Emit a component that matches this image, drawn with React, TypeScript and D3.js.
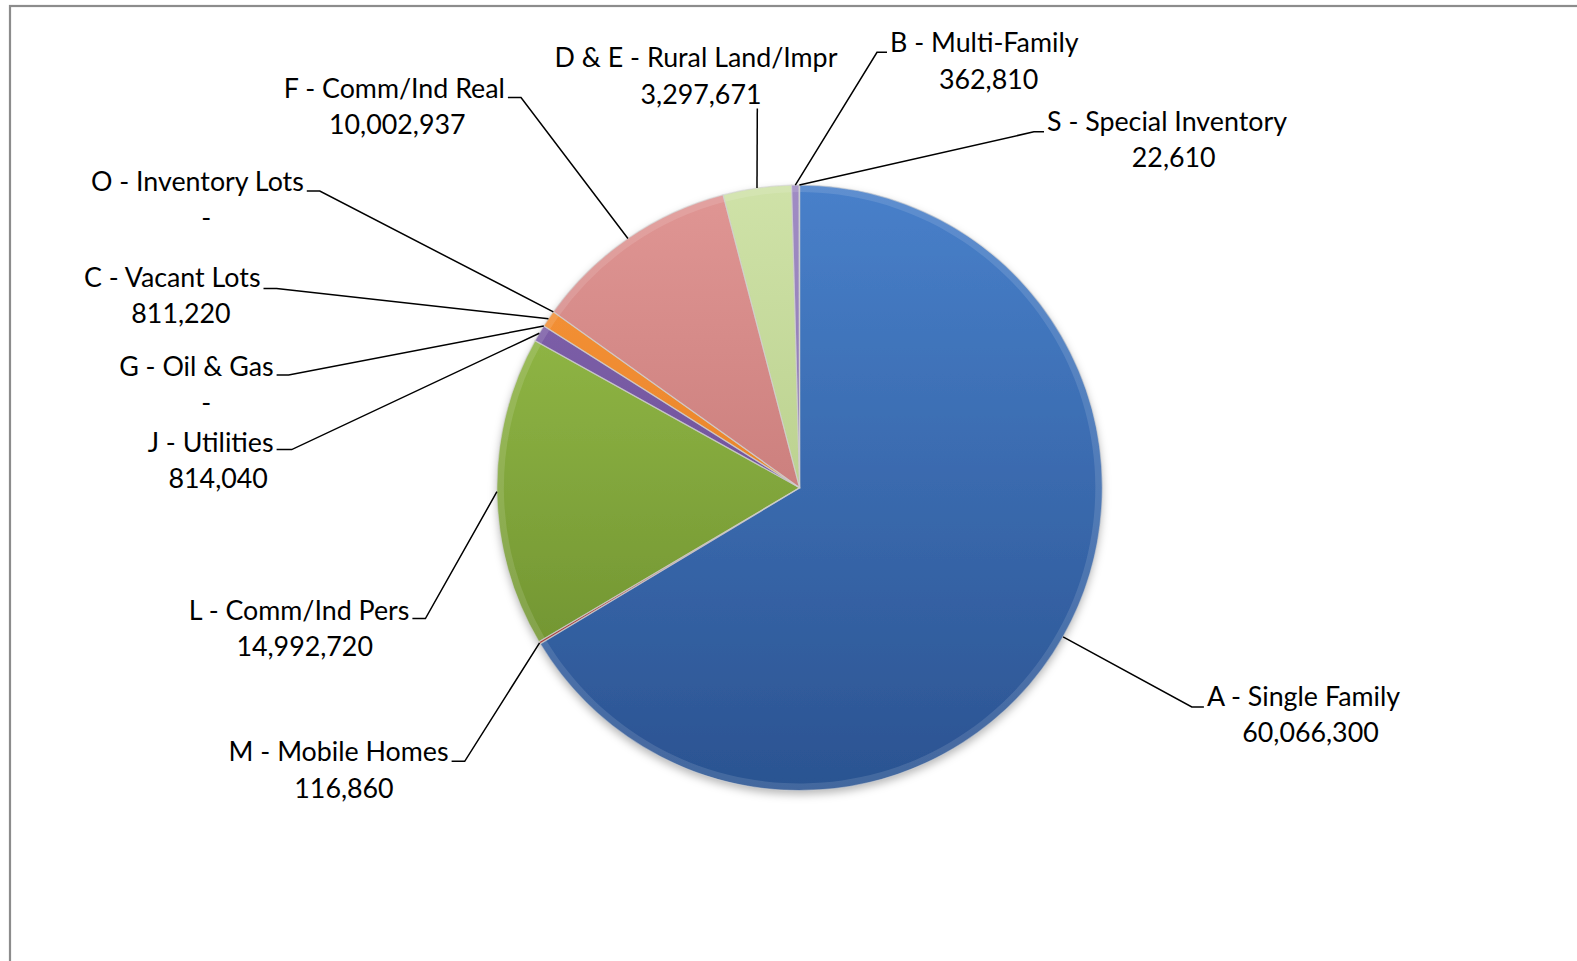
import React from "react";
import * as d3 from "d3";

const categories = [
  "A - Single Family",
  "M - Mobile Homes",
  "L - Comm/Ind Pers",
  "J - Utilities",
  "G - Oil & Gas",
  "C - Vacant Lots",
  "O - Inventory Lots",
  "F - Comm/Ind Real",
  "D & E - Rural Land/Impr",
  "B - Multi-Family",
  "S - Special Inventory",
];
const values = [60066300, 116860, 14992720, 814040, 0, 811220, 0, 10002937, 3297671, 362810, 22610];
const valueLabels = ["60,066,300", "116,860", "14,992,720", "814,040", "-", "811,220", "-", "10,002,937", "3,297,671", "362,810", "22,610"];

// [top colour, bottom colour] per slice
const colors: [string, string][] = [
  ["#4880ca", "#2b5391"],
  ["#c9534f", "#9c3a37"],
  ["#9cc34d", "#66882a"],
  ["#8466b0", "#5f438a"],
  ["#54b2cc", "#35889f"],
  ["#f8963c", "#dd7518"],
  ["#7aa0d8", "#5a80b8"],
  ["#e09694", "#b86a68"],
  ["#cfe2a8", "#a9c278"],
  ["#a08cc4", "#7f68a6"],
  ["#8fcde0", "#6eb0c6"],
];

// label layout: elbow point, tick end, side, line-1 baseline, number centre
type Lay = { ex: number; ey: number; tx: number; side: "l" | "r" | "m"; by: number; nx: number };
const layout: Lay[] = [
  { ex: 1191.8, ey: 707, tx: 1203.9, side: "r", by: 706, nx: 1310.5 },
  { ex: 464.7, ey: 761.3, tx: 451.6, side: "l", by: 761.3, nx: 344 },
  { ex: 425.4, ey: 618.5, tx: 412.4, side: "l", by: 619.5, nx: 304.7 },
  { ex: 291.7, ey: 449.6, tx: 276.6, side: "l", by: 451.6, nx: 218.2 },
  { ex: 288.6, ey: 375.1, tx: 276.6, side: "l", by: 376.1, nx: 206.2 },
  { ex: 276.6, ey: 288.6, tx: 263.5, side: "l", by: 286.6, nx: 181 },
  { ex: 319.8, ey: 191.1, tx: 306.8, side: "l", by: 191.1, nx: 206.2 },
  { ex: 521, ey: 97.6, tx: 507.9, side: "l", by: 97.6, nx: 397.3 },
  { ex: 757.3, ey: 108.6, tx: 696, side: "m", by: 67.4, nx: 701 },
  { ex: 877, ey: 52.3, tx: 887, side: "r", by: 52.3, nx: 988.6 },
  { ex: 1033.9, ey: 131.8, tx: 1044, side: "r", by: 130.7, nx: 1173.7 },
];

const W = 1577;
const H = 961;
const cx = 799.6;
const cy = 487.8;
const R = 302.7;
const FONT = "Lato, 'Open Sans', sans-serif";
const FS = 26.8;
const LINE = 36.2;

export default function App() {
  const pie = d3.pie<number>().sort(null).startAngle(0).endAngle(2 * Math.PI).value((d) => d);
  const arcs = pie(values);
  const arc = d3.arc<d3.PieArcDatum<number>>().innerRadius(0).outerRadius(R);
  const rim = d3.arc<d3.PieArcDatum<number>>().innerRadius(R - 7).outerRadius(R);

  return (
    <svg width={W} height={H} style={{ position: "absolute", left: 0, top: 0 }}>
      <defs>
        {colors.map((c, i) => (
          <linearGradient key={i} id={`g${i}`} gradientUnits="userSpaceOnUse" x1={0} y1={-R} x2={0} y2={R}>
            <stop offset="0%" stopColor={c[0]} />
            <stop offset="100%" stopColor={c[1]} />
          </linearGradient>
        ))}
        <filter id="sh" x="-20%" y="-20%" width="140%" height="140%">
          <feDropShadow dx="0" dy="4" stdDeviation="4" floodColor="#000" floodOpacity="0.28" />
        </filter>
      </defs>
      <rect x={0} y={0} width={W} height={H} fill="#fff" />
      <rect x={10} y={6} width={W + 20} height={H + 20} fill="none" stroke="#8c8c8c" strokeWidth={2.2} />
      <g transform={`translate(${cx},${cy})`} filter="url(#sh)">
        {arcs.map((a, i) =>
          a.endAngle - a.startAngle > 0 ? <path key={i} d={arc(a) || ""} fill={`url(#g${i})`} /> : null
        )}
      </g>
      <g transform={`translate(${cx},${cy})`}>
        {arcs.map((a, i) =>
          a.endAngle - a.startAngle > 0.02 ? (
            <path key={`r${i}`} d={rim(a) || ""} fill="#ffffff" fillOpacity={0.12} />
          ) : null
        )}
        {arcs.map((a, i) =>
          a.endAngle - a.startAngle > 0 ? (
            <path key={i} d={arc(a) || ""} fill="none" stroke="#d0d0d0" strokeOpacity={0.6} strokeWidth={1.2} />
          ) : null
        )}
      </g>
      {arcs.map((a, i) => {
        const m = (a.startAngle + a.endAngle) / 2;
        const sx = cx + R * Math.sin(m);
        const sy = cy - R * Math.cos(m);
        const L = layout[i];
        const pts = L.side === "m" ? `${sx},${sy} ${L.ex},${L.ey}` : `${sx},${sy} ${L.ex},${L.ey} ${L.tx},${L.ey}`;
        return <polyline key={i} points={pts} fill="none" stroke="#000" strokeWidth={1.5} />;
      })}
      {categories.map((c, i) => {
        const L = layout[i];
        const anchor = L.side === "r" ? "start" : L.side === "l" ? "end" : "middle";
        const x1 = L.side === "r" ? L.tx + 3 : L.side === "l" ? L.tx - 3 : L.tx;
        return (
          <g key={i} fontFamily={FONT} fontSize={FS} fill="#000">
            <text x={x1} y={L.by} textAnchor={anchor}>{c}</text>
            <text x={L.nx} y={L.by + LINE} textAnchor="middle">{valueLabels[i]}</text>
          </g>
        );
      })}
    </svg>
  );
}
